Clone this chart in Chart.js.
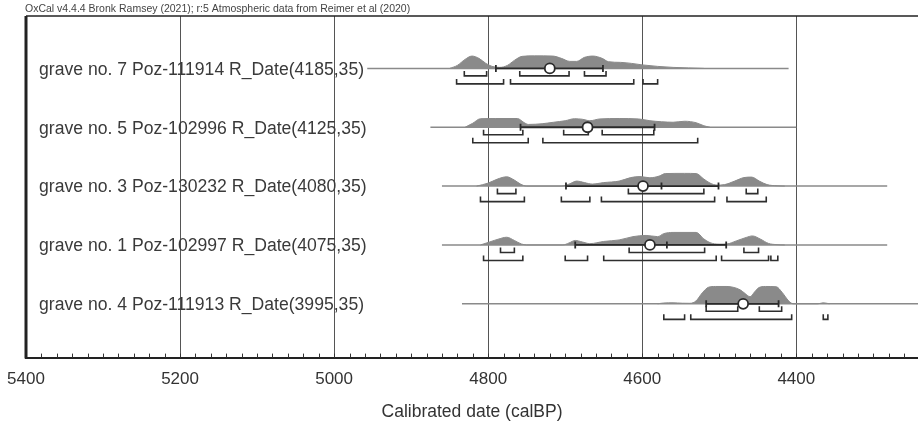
<!DOCTYPE html>
<html><head><meta charset="utf-8">
<script src="https://cdn.jsdelivr.net/npm/chart.js@4/dist/chart.umd.min.js"></script>
<style>html,body{margin:0;padding:0;background:#fff;}#wrap{width:918px;height:425px;}</style>
</head><body><div id="wrap"><canvas id="c" width="918" height="425"></canvas></div>
<script>
// ---------- data ----------
const headerText = "OxCal v4.4.4 Bronk Ramsey (2021); r:5 Atmospheric data from Reimer et al (2020)";
const axisTitle = "Calibrated date (calBP)";
const xTickLabels = [5400, 5200, 5000, 4800, 4600, 4400];
const rowLabels = [
  "grave no. 7 Poz-111914 R_Date(4185,35)",
  "grave no. 5 Poz-102996 R_Date(4125,35)",
  "grave no. 3 Poz-130232 R_Date(4080,35)",
  "grave no. 1 Poz-102997 R_Date(4075,35)",
  "grave no. 4 Poz-111913 R_Date(3995,35)"
];
// extent of each row's base line (calBP)
const lineRanges = [[4957, 4410], [4875, 4400], [4860, 4282], [4860, 4282], [4834, 4100]];
// mean and mean±sigma, median
const means = [4720, 4671, 4599, 4590, 4469];
const sigmaRanges = [[4790, 4651], [4758, 4584], [4699, 4501], [4687, 4491], [4517, 4423]];
const medians = [null, null, 4575, 4568, null];
// calibrated probability distributions [calBP, relative probability]
const dist7 = [[4850,0],[4840,3],[4830,9],[4821,12.3],[4812,10],[4803,5],[4795,2],[4785,1],[4775,3],[4766,8],[4756,12],[4740,12.5],[4716,12.3],[4705,10],[4694,7],[4685,7],[4675,11],[4664,12.3],[4652,10],[4644,6.7],[4628,6],[4614,5],[4600,3.5],[4580,2],[4560,1],[4540,0.5],[4520,0]];
const dist5 = [[4830,0],[4820,4],[4810,8.5],[4790,8.7],[4762,8.7],[4754,5],[4748,2.8],[4730,3.5],[4715,5],[4700,6.5],[4688,8.5],[4678,8],[4668,6.5],[4655,8.3],[4630,8.7],[4605,8.3],[4590,6.5],[4575,5.5],[4560,5],[4545,6],[4530,4.5],[4520,1.5],[4512,0]];
const dist3 = [[4815,0],[4800,3],[4788,7],[4776,9.3],[4766,6],[4758,2],[4750,0],[4705,0],[4695,2],[4685,5],[4675,3.5],[4665,2],[4650,3.5],[4630,5],[4615,8.5],[4603,9.5],[4590,8.3],[4578,10],[4570,12.5],[4545,12.7],[4530,12.5],[4520,7],[4512,3],[4503,1],[4493,1.5],[4480,5],[4468,8.5],[4458,9],[4448,5],[4438,1.5],[4425,0.3],[4415,0]];
const dist1 = [[4810,0],[4798,3],[4786,6],[4776,7.7],[4766,4.5],[4757,1],[4750,0],[4703,0],[4695,2],[4687,4.5],[4678,3],[4668,1.3],[4650,3.5],[4630,5],[4612,8.3],[4595,9.5],[4580,8.3],[4572,11.3],[4560,12.5],[4530,12.5],[4520,6],[4512,2.3],[4500,0.8],[4490,1],[4478,4],[4465,7.5],[4457,9],[4447,6],[4436,1.5],[4425,0.3],[4415,0]];
const dist4 = [[4580,0],[4572,0.8],[4560,1],[4548,0.6],[4538,0.5],[4530,3],[4522,11],[4514,16.5],[4505,17.3],[4490,17.3],[4482,16.5],[4473,14],[4466,10],[4460,7],[4454,12],[4449,16],[4440,17.3],[4426,17],[4418,11],[4410,3],[4404,0],[4372,0],[4365,1],[4357,0]];
// highest posterior density ranges
const hpd68_7 = [[4831,4802],[4759,4695],[4675,4647]];
const hpd95_7 = [[4841,4780],[4771,4611],[4599,4580]];
const hpd68_5 = [[4806,4755],[4702,4670],[4652,4585]];
const hpd95_5 = [[4820,4748],[4729,4528]];
const hpd68_3 = [[4788,4764],[4618,4520],[4465,4450]];
const hpd95_3 = [[4810,4753],[4705,4668],[4653,4506],[4490,4439]];
const hpd68_1 = [[4784,4766],[4617,4519],[4468,4449]];
const hpd95_1 = [[4806,4755],[4700,4671],[4650,4504],[4497,4436],[4433,4424]];
const hpd68_4 = [[4517,4476],[4448,4419]];
const hpd95_4 = [[4572,4545],[4537,4406],[4365,4359]];

// ---------- layout helpers ----------
const dists = [dist7, dist5, dist3, dist1, dist4];
const hpd68 = [hpd68_7, hpd68_5, hpd68_3, hpd68_1, hpd68_4];
const hpd95 = [hpd95_7, hpd95_5, hpd95_3, hpd95_1, hpd95_4];
const ROW_TOP = 288.7, ROW_STEP = 58.75;   // y units = px above axis
const base = i => ROW_TOP - i * ROW_STEP;
const PROB_SCALE = 1.0;

const datasets = [];
dists.forEach((d, i) => {
  const b = base(i);
  datasets.push({
    data: d.map(p => ({x: p[0], y: b + p[1] * PROB_SCALE})),
    borderColor: '#8a8a8a', borderWidth: 1, backgroundColor: '#8a8a8a',
    fill: {value: b}, pointRadius: 0, cubicInterpolationMode: 'monotone', order: 6
  });
  datasets.push({
    data: lineRanges[i].map(x => ({x, y: b})),
    borderColor: '#8a8a8a', borderWidth: 1.5, pointRadius: 0, order: 5, fill: false
  });
  const br = [];
  hpd68[i].forEach(r => {
    br.push({x: r[0], y: b - 2.5}, {x: r[0], y: b - 7.5}, {x: r[1], y: b - 7.5}, {x: r[1], y: b - 2.5}, {x: r[1], y: null});
  });
  hpd95[i].forEach(r => {
    br.push({x: r[0], y: b - 10.5}, {x: r[0], y: b - 15.5}, {x: r[1], y: b - 15.5}, {x: r[1], y: b - 10.5}, {x: r[1], y: null});
  });
  datasets.push({data: br, borderColor: '#2e2e2e', borderWidth: 1.6, pointRadius: 0, spanGaps: false, order: 4, fill: false});
  const s = sigmaRanges[i];
  const eb = [
    {x: s[0], y: b + 3.5}, {x: s[0], y: b - 3.5}, {x: s[0], y: null},
    {x: s[0], y: b}, {x: s[1], y: b}, {x: s[1], y: null},
    {x: s[1], y: b + 3.5}, {x: s[1], y: b - 3.5}, {x: s[1], y: null}
  ];
  if (medians[i] !== null) eb.push({x: medians[i], y: b + 3.5}, {x: medians[i], y: b - 3.5});
  datasets.push({data: eb, borderColor: '#2a2a2a', borderWidth: 1.8, pointRadius: 0, spanGaps: false, order: 3, fill: false});
  datasets.push({
    data: [{x: means[i], y: b}], showLine: false, pointStyle: 'circle', pointRadius: 5,
    pointBackgroundColor: '#ffffff', pointBorderColor: '#2a2a2a', pointBorderWidth: 1.8, order: 2
  });
});

const decor = {
  id: 'decor',
  afterDatasetsDraw(chart) {
    const ctx = chart.ctx, a = chart.chartArea, xs = chart.scales.x, ys = chart.scales.y;
    ctx.save();
    // minor ticks
    ctx.strokeStyle = '#333'; ctx.lineWidth = 1;
    for (let v = 5400; v >= 4242; v -= 20) {
      const px = Math.round(xs.getPixelForValue(v)) + 0.5;
      ctx.beginPath(); ctx.moveTo(px, a.bottom); ctx.lineTo(px, a.bottom - 4); ctx.stroke();
    }
    // frame
    ctx.strokeStyle = '#222';
    ctx.lineWidth = 3;
    ctx.beginPath(); ctx.moveTo(a.left, a.top); ctx.lineTo(a.left, a.bottom + 1); ctx.stroke();
    ctx.lineWidth = 1.5;
    ctx.beginPath(); ctx.moveTo(a.left, a.top); ctx.lineTo(918, a.top); ctx.stroke();
    // row labels
    ctx.fillStyle = '#3a3a3a';
    ctx.font = '17.6px "Liberation Sans", Arial, sans-serif';
    ctx.textBaseline = 'middle'; ctx.textAlign = 'left';
    rowLabels.forEach((t, i) => ctx.fillText(t, a.left + 13, ys.getPixelForValue(base(i)) + 1.5));
    // header
    ctx.font = '10.5px "Liberation Sans", Arial, sans-serif';
    ctx.fillStyle = '#444';
    ctx.fillText(headerText, 25, 9);
    ctx.restore();
  }
};

new Chart(document.getElementById('c'), {
  type: 'line',
  data: {datasets},
  options: {
    responsive: false, animation: false, events: [],
    layout: {autoPadding: false, padding: {left: 26, top: 16, right: 0, bottom: 0}},
    plugins: {legend: {display: false}, tooltip: {enabled: false}, title: {display: false}},
    scales: {
      x: {
        type: 'linear', reverse: true, min: 4242, max: 5400,
        afterBuildTicks: s => { s.ticks = xTickLabels.map(v => ({value: v})); },
        afterFit: s => { s.paddingLeft = 0; s.paddingRight = 0; },
        grid: {color: '#555', lineWidth: 1, drawTicks: false},
        border: {display: true, color: '#222', width: 2},
        ticks: {padding: 12, color: '#333', font: {family: '"Liberation Sans", Arial, sans-serif', size: 17}, callback: v => String(v), maxRotation: 0, autoSkip: false},
        title: {display: true, text: axisTitle, color: '#333', font: {family: '"Liberation Sans", Arial, sans-serif', size: 17.5}, padding: {top: 0, bottom: 2}}
      },
      y: {type: 'linear', min: 0, max: 341, display: false}
    }
  },
  plugins: [decor]
});
</script></body></html>
